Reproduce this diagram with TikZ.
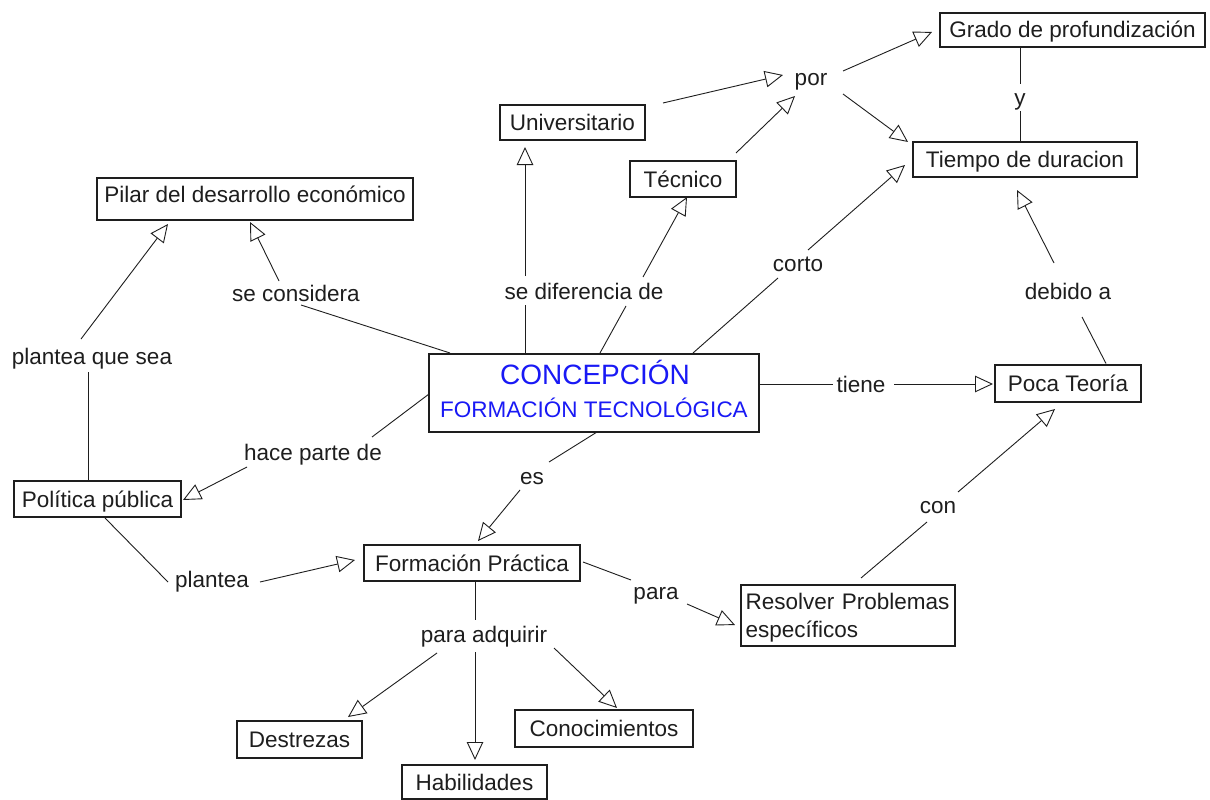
\documentclass[tikz,border=0pt]{standalone}
\usepackage{fontspec}
\setmainfont{Liberation Sans}
\usetikzlibrary{arrows.meta}
\definecolor{concblue}{RGB}{25,25,245}
\definecolor{ink}{RGB}{30,30,30}

\begin{document}
\begin{tikzpicture}[x=1pt,y=-1pt,
  every node/.style={font=\fontsize{22.5}{28}\selectfont, text=ink},
  concept/.style={draw=ink, line width=1.2pt, inner sep=0pt,
    text height=16pt, text depth=0pt},
  lbl/.style={inner sep=0pt, text height=16pt, text depth=0pt},
  link/.style={draw=ink, line width=0.9pt},
  arr/.style={link, -{Triangle[open, length=18pt, width=16.5pt, line width=0.9pt]}}
  ]
\fill[white] (0,0) rectangle (1210,800);
\useasboundingbox (0,0) rectangle (1210,800);

% concepts
\node[concept, minimum width=265, minimum height=34] (grado) at (1072.5,30) {Grado de profundización};
\node[concept, minimum width=145, minimum height=35] (univ) at (572.5,122.5) {Universitario};
\node[concept, minimum width=224, minimum height=35] (tiempo) at (1025,159.5) {Tiempo de duracion};
\node[concept, minimum width=106, minimum height=36] (tec) at (683,179) {Técnico};
\node[concept, minimum width=316, minimum height=42, text depth=9pt] (pilar) at (255,199) {Pilar del desarrollo económico};
\node[concept, minimum width=330, minimum height=78] (conc) at (594,393) {};
\node[anchor=base, font=\fontsize{28}{33}\selectfont, text=concblue] (conct) at ([shift={(1,-9)}]conc.center) {CONCEPCIÓN};
\node[anchor=base, text=concblue] (concs) at ([shift={(0,24)}]conc.center) {FORMACIÓN TECNOLÓGICA};
\node[concept, minimum width=146, minimum height=37] (poca) at (1068,383.5) {Poca Teoría};
\node[concept, minimum width=167, minimum height=36] (polit) at (97.5,499) {Política pública};
\node[concept, minimum width=216, minimum height=36] (form) at (472,563) {Formación Práctica};
\node[concept, minimum width=214, minimum height=61, text width=205pt, align=left,
      text depth=28pt] (resol) at (848,615.5) {Resolver Problemas\\específicos};
\node[concept, minimum width=125, minimum height=37] (destr) at (299.5,739.5) {Destrezas};
\node[concept, minimum width=178, minimum height=37] (conoc) at (604,728.5) {Conocimientos};
\node[concept, minimum width=145, minimum height=34] (habil) at (474.5,782) {Habilidades};

% linking phrases
\node[lbl] (lpor) at (811,77) {por};
\node[lbl] (ly) at (1020,97) {y};
\node[lbl] (lcorto) at (798,263) {corto};
\node[lbl] (lcons) at (296,293) {se considera};
\node[lbl] (ldif) at (584,291) {se diferencia de};
\node[lbl] (ldeb) at (1068,291) {debido a};
\node[lbl] (lpq) at (92,356) {plantea que sea};
\node[lbl] (ltiene) at (861,384) {tiene};
\node[lbl] (lhace) at (313,452) {hace parte de};
\node[lbl] (les) at (532,476) {es};
\node[lbl] (lcon) at (938,505) {con};
\node[lbl] (lplantea) at (212,579) {plantea};
\node[lbl] (lpara) at (656,591) {para};
\node[lbl] (ladq) at (484,634) {para adquirir};

% se considera
\draw[link] ([shift={(-144,-40)}]conc.center) -- ([shift={(5,12)}]lcons.center);
\draw[arr] ([shift={(-17,-12)}]lcons.center) -- ([shift={(-5,23)}]pilar.center);
% plantea que sea
\draw[link] ([shift={(-9.5,-18)}]polit.center) -- ([shift={(-4,16)}]lpq.center);
\draw[arr] ([shift={(-11,-17)}]lpq.center) -- ([shift={(-87,25)}]pilar.center);
% hace parte de
\draw[link] ([shift={(-165,1)}]conc.center) -- ([shift={(59,-15)}]lhace.center);
\draw[arr] ([shift={(-66,15)}]lhace.center) -- ([shift={(85.5,1)}]polit.center);
% se diferencia de
\draw[link] ([shift={(-69,-40)}]conc.center) -- ([shift={(-59,14)}]ldif.center);
\draw[arr] ([shift={(-59,-15)}]ldif.center) -- ([shift={(-47.5,24.5)}]univ.center);
\draw[link] ([shift={(6,-40)}]conc.center) -- ([shift={(42,15)}]ldif.center);
\draw[arr] ([shift={(59,-14)}]ldif.center) -- ([shift={(4,18)}]tec.center);
% por
\draw[arr] ([shift={(90.5,-19.5)}]univ.center) -- ([shift={(-28,-2)}]lpor.center);
\draw[arr] ([shift={(53,-26)}]tec.center) -- ([shift={(-16,19)}]lpor.center);
\draw[arr] ([shift={(32,-6)}]lpor.center) -- ([shift={(-140.5,2)}]grado.center);
\draw[arr] ([shift={(32,17)}]lpor.center) -- ([shift={(-117,-17.5)}]tiempo.center);
% y
\draw[link] ([shift={(-52.5,17)}]grado.center) -- ([shift={(0,-13)}]ly.center);
\draw[link] ([shift={(0,14)}]ly.center) -- ([shift={(-5,-17.5)}]tiempo.center);
% corto
\draw[link] ([shift={(99,-40)}]conc.center) -- ([shift={(-20,15)}]lcorto.center);
\draw[arr] ([shift={(10,-13)}]lcorto.center) -- ([shift={(-120,5.5)}]tiempo.center);
% debido a
\draw[link] ([shift={(38,-20)}]poca.center) -- ([shift={(14,26)}]ldeb.center);
\draw[arr] ([shift={(-14,-28)}]ldeb.center) -- ([shift={(-8,30.5)}]tiempo.center);
% tiene
\draw[link] ([shift={(165,-9)}]conc.center) -- ([shift={(-28,0)}]ltiene.center);
\draw[arr] ([shift={(33,0)}]ltiene.center) -- ([shift={(-75,0.5)}]poca.center);
% con
\draw[link] ([shift={(13,-37.5)}]resol.center) -- ([shift={(-11,17)}]lcon.center);
\draw[arr] ([shift={(20,-13)}]lcon.center) -- ([shift={(-13,25.5)}]poca.center);
% para
\draw[link] ([shift={(111,-1)}]form.center) -- ([shift={(-25,-11)}]lpara.center);
\draw[arr] ([shift={(31,13)}]lpara.center) -- ([shift={(-113,9.5)}]resol.center);
% es
\draw[link] ([shift={(3,39)}]conc.center) -- ([shift={(17,-14)}]les.center);
\draw[arr] ([shift={(-12,14)}]les.center) -- ([shift={(6,-22)}]form.center);
% plantea
\draw[link] ([shift={(7.5,19)}]polit.center) -- ([shift={(-44,3)}]lplantea.center);
\draw[arr] ([shift={(48,3)}]lplantea.center) -- ([shift={(-117,-3)}]form.center);
% para adquirir
\draw[link] ([shift={(3,18)}]form.center) -- ([shift={(-9,-14)}]ladq.center);
\draw[arr] ([shift={(-9,18)}]ladq.center) -- ([shift={(0.5,-22)}]habil.center);
\draw[arr] ([shift={(-47,19)}]ladq.center) -- ([shift={(48.5,-22.5)}]destr.center);
\draw[arr] ([shift={(70,14)}]ladq.center) -- ([shift={(13,-20.5)}]conoc.center);
\end{tikzpicture}
\end{document}
